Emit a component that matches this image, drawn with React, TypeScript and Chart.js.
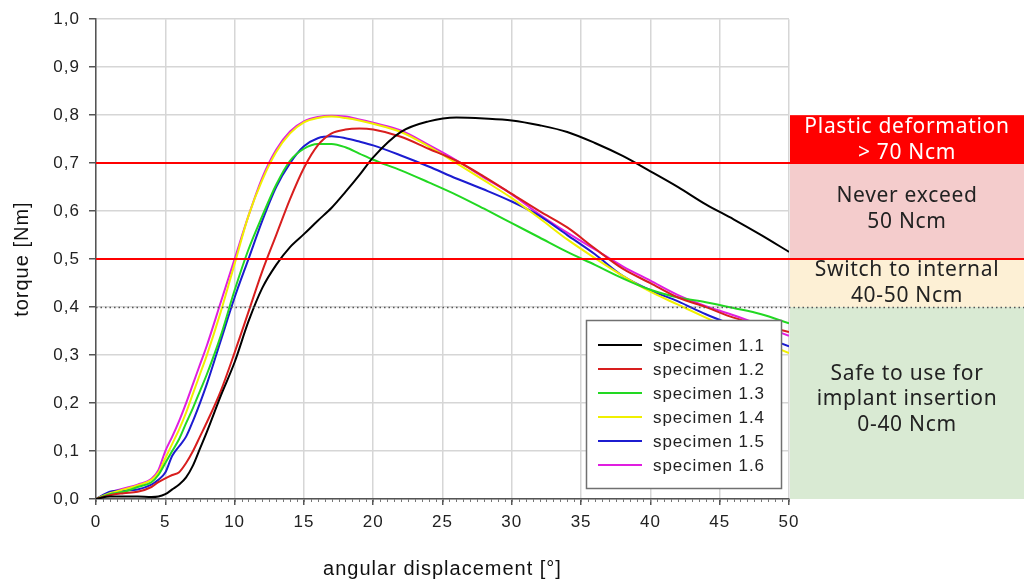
import React, { useEffect, useRef } from 'react';
import { Chart, registerables } from 'chart.js';

Chart.register(...registerables);

const angles = [0, 1, 2, 3, 4, 4.5, 5, 5.5, 6, 6.5, 7, 7.5, 8, 9, 10, 11, 12, 13, 14, 15, 16, 17, 18, 19, 20, 22, 24, 26, 28, 30, 32, 34, 36, 38, 40, 42, 44, 46, 48, 50];

const specimen11 = [0, 0.005, 0.005, 0.005, 0.004, 0.005, 0.01, 0.02, 0.03, 0.045, 0.07, 0.105, 0.14, 0.215, 0.285, 0.37, 0.44, 0.488, 0.525, 0.552, 0.58, 0.607, 0.64, 0.675, 0.712, 0.765, 0.787, 0.795, 0.793, 0.789, 0.779, 0.765, 0.742, 0.715, 0.683, 0.65, 0.614, 0.583, 0.55, 0.515];
const specimen12 = [0, 0.008, 0.012, 0.015, 0.025, 0.035, 0.043, 0.05, 0.056, 0.075, 0.1, 0.13, 0.16, 0.225, 0.305, 0.39, 0.475, 0.55, 0.625, 0.69, 0.737, 0.762, 0.77, 0.772, 0.77, 0.755, 0.73, 0.705, 0.672, 0.636, 0.6, 0.566, 0.522, 0.48, 0.45, 0.42, 0.4, 0.378, 0.362, 0.348];
const specimen13 = [0, 0.01, 0.015, 0.025, 0.035, 0.05, 0.075, 0.1, 0.125, 0.158, 0.19, 0.225, 0.26, 0.34, 0.435, 0.52, 0.59, 0.655, 0.705, 0.73, 0.74, 0.74, 0.733, 0.72, 0.707, 0.685, 0.66, 0.634, 0.605, 0.575, 0.545, 0.515, 0.488, 0.46, 0.436, 0.42, 0.41, 0.398, 0.385, 0.366];
const specimen14 = [0, 0.012, 0.02, 0.028, 0.04, 0.055, 0.085, 0.115, 0.145, 0.18, 0.22, 0.26, 0.3, 0.39, 0.49, 0.59, 0.665, 0.723, 0.762, 0.785, 0.794, 0.797, 0.794, 0.789, 0.782, 0.765, 0.735, 0.7, 0.664, 0.627, 0.585, 0.541, 0.502, 0.465, 0.432, 0.405, 0.378, 0.352, 0.328, 0.304];
const specimen15 = [0, 0.015, 0.018, 0.02, 0.03, 0.04, 0.055, 0.09, 0.11, 0.13, 0.163, 0.2, 0.24, 0.33, 0.42, 0.5, 0.58, 0.65, 0.7, 0.735, 0.752, 0.756, 0.752, 0.745, 0.737, 0.716, 0.693, 0.668, 0.645, 0.62, 0.59, 0.55, 0.51, 0.465, 0.435, 0.412, 0.385, 0.362, 0.34, 0.318];
const specimen16 = [0, 0.014, 0.022, 0.03, 0.042, 0.06, 0.1, 0.13, 0.163, 0.2, 0.24, 0.28, 0.32, 0.41, 0.5, 0.59, 0.67, 0.728, 0.766, 0.787, 0.796, 0.799, 0.797, 0.791, 0.784, 0.768, 0.738, 0.706, 0.67, 0.635, 0.593, 0.555, 0.52, 0.485, 0.455, 0.425, 0.402, 0.383, 0.362, 0.34];

const seriesLabels = ['specimen 1.1', 'specimen 1.2', 'specimen 1.3', 'specimen 1.4', 'specimen 1.5', 'specimen 1.6'];
const seriesValues = [specimen11, specimen12, specimen13, specimen14, specimen15, specimen16];
const seriesColors = ['#000000', '#d81e1e', '#22d822', '#f0f000', '#1c1cd0', '#e01ee0'];

const zoneTops = [0.8, 0.7, 0.5, 0.4];
const zoneBottoms = [0.7, 0.5, 0.4, 0.0];
const zoneColors = ['#ff0000', '#f4cccc', '#fdf0d5', '#d9ead3'];
const zoneTextColors = ['#ffffff', '#222222', '#222222', '#222222'];
const zoneLabels = [
  ['Plastic deformation', '> 70 Ncm'],
  ['Never exceed', '50 Ncm'],
  ['Switch to internal', '40-50 Ncm'],
  ['Safe to use for', 'implant insertion', '0-40 Ncm'],
];
const zoneTextShift = [1, -2, 0, -4];
const redLimits = [0.7, 0.5];
const dottedLimits = [0.4];

const SANS = "'Liberation Sans', Arial, sans-serif";
const PANEL_FONT = "'Noto Sans', sans-serif";

const spacingPlugin = {
  id: 'spacing',
  beforeDraw(chart: any) {
    chart.ctx.letterSpacing = '1px';
  },
};

const overlayPlugin = {
  id: 'overlay',
  afterDatasetsDraw(chart: any) {
    const { ctx, chartArea, scales } = chart;
    const y = scales.y;
    const x = scales.x;
    const W = chart.width;
    const panelLeft = chartArea.right + 1;
    ctx.save();
    zoneTops.forEach((top, i) => {
      const yt = y.getPixelForValue(top);
      const yb = y.getPixelForValue(zoneBottoms[i]);
      ctx.fillStyle = zoneColors[i];
      ctx.fillRect(panelLeft, yt, W - panelLeft, yb - yt);
      const lines = zoneLabels[i];
      const lh = 25.5;
      const cy = (yt + yb) / 2 + zoneTextShift[i];
      ctx.fillStyle = zoneTextColors[i];
      ctx.font = `21px ${PANEL_FONT}`;
      ctx.letterSpacing = '0.7px';
      ctx.textAlign = 'center';
      ctx.textBaseline = 'middle';
      const cx = (panelLeft + W) / 2;
      lines.forEach((t, k) => {
        ctx.fillText(t, cx, cy + (k - (lines.length - 1) / 2) * lh);
      });
    });
    ctx.strokeStyle = '#ff0000';
    ctx.lineWidth = 2;
    redLimits.forEach((v) => {
      const py = Math.round(y.getPixelForValue(v));
      ctx.beginPath();
      ctx.moveTo(chartArea.left, py);
      ctx.lineTo(W, py);
      ctx.stroke();
    });
    ctx.strokeStyle = '#555555';
    ctx.lineWidth = 1.5;
    ctx.setLineDash([1.5, 3]);
    dottedLimits.forEach((v) => {
      const py = Math.round(y.getPixelForValue(v)) + 0.5;
      ctx.beginPath();
      ctx.moveTo(chartArea.left, py);
      ctx.lineTo(W, py);
      ctx.stroke();
    });
    ctx.setLineDash([]);
    ctx.strokeStyle = '#777777';
    ctx.lineWidth = 1;
    for (let v = x.min; v <= x.max; v += 0.5) {
      const px = Math.round(x.getPixelForValue(v)) + 0.5;
      ctx.beginPath();
      ctx.moveTo(px, chartArea.bottom);
      ctx.lineTo(px, chartArea.bottom + 3);
      ctx.stroke();
    }
    const boxRight = chartArea.right - 8;
    const boxBottom = chartArea.bottom - 11;
    const boxW = 195;
    const boxH = 168;
    const bl = boxRight - boxW;
    const bt = boxBottom - boxH;
    ctx.fillStyle = '#ffffff';
    ctx.fillRect(bl, bt, boxW, boxH);
    ctx.strokeStyle = '#707070';
    ctx.lineWidth = 1.5;
    ctx.strokeRect(bl + 0.5, bt + 0.5, boxW, boxH);
    ctx.font = `17px ${SANS}`;
    ctx.letterSpacing = '0.9px';
    ctx.textAlign = 'left';
    ctx.textBaseline = 'middle';
    chart.data.datasets.forEach((ds: any, i: number) => {
      const ry = bt + 25 + i * 24;
      ctx.strokeStyle = ds.borderColor;
      ctx.lineWidth = 2;
      ctx.beginPath();
      ctx.moveTo(bl + 12, ry);
      ctx.lineTo(bl + 56, ry);
      ctx.stroke();
      ctx.fillStyle = '#222222';
      ctx.fillText(ds.label, bl + 67, ry + 1);
    });
    ctx.restore();
  },
};

export default function App() {
  const ref = useRef<HTMLCanvasElement>(null);
  useEffect(() => {
    document.body.style.margin = '0';
    const canvas = ref.current;
    if (!canvas) return;
    const chart = new Chart(canvas, {
      type: 'line',
      data: {
        datasets: seriesLabels.map((label, i) => ({
          label,
          data: angles.map((a, j) => ({ x: a, y: seriesValues[i][j] })),
          borderColor: seriesColors[i],
          backgroundColor: seriesColors[i],
          borderWidth: 2,
          pointRadius: 0,
          fill: false,
          cubicInterpolationMode: 'monotone' as const,
        })),
      },
      options: {
        animation: false,
        responsive: false,
        devicePixelRatio: 1,
        layout: { padding: { top: 15, right: 235, left: 0, bottom: 0 } },
        plugins: { legend: { display: false }, tooltip: { enabled: false } },
        scales: {
          x: {
            type: 'linear',
            min: 0,
            max: 50,
            ticks: { stepSize: 5, color: '#222', font: { family: SANS, size: 17 }, padding: 7, maxRotation: 0 },
            grid: { color: '#d6d6d6', lineWidth: 1.5, tickLength: 6, tickColor: '#555' },
            border: { color: '#555', width: 1.5 },
            title: { display: true, text: 'angular displacement [°]', color: '#111', font: { family: SANS, size: 20 }, padding: { top: 0, bottom: 1 } },
            afterFit: (s: any) => { s.height = 83; },
          },
          y: {
            min: 0,
            max: 1,
            ticks: {
              stepSize: 0.1,
              color: '#222',
              font: { family: SANS, size: 17 },
              padding: 9,
              callback: (v: any) => Number(v).toFixed(1).replace('.', ','),
            },
            grid: { color: '#d6d6d6', lineWidth: 1.5, tickLength: 7, tickColor: '#555' },
            border: { color: '#555', width: 1.5 },
            title: { display: true, text: 'torque [Nm]', color: '#111', font: { family: SANS, size: 20 }, padding: { top: 10, bottom: 0 } },
            afterFit: (s: any) => { s.width = 96; },
          },
        },
      },
      plugins: [spacingPlugin, overlayPlugin],
    } as any);
    return () => chart.destroy();
  }, []);
  return (
    <div style={{ width: 1024, height: 582 }}>
      <canvas ref={ref} width={1024} height={582} style={{ display: 'block' }} />
    </div>
  );
}
